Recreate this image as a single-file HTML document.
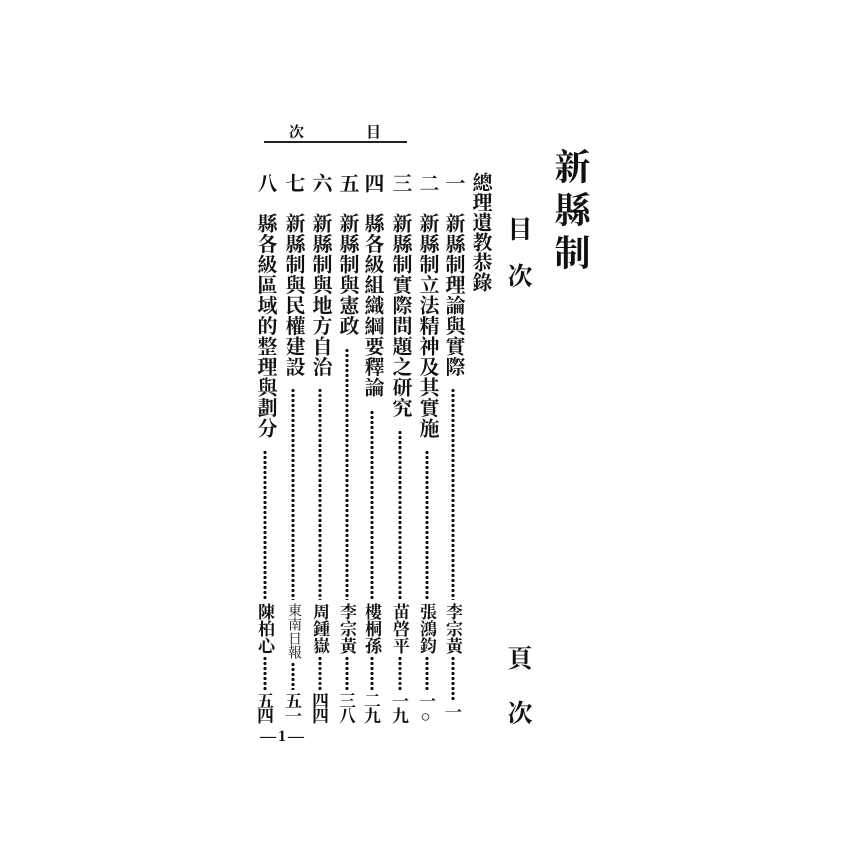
<!DOCTYPE html>
<html><head><meta charset="utf-8"><style>
body{margin:0;width:850px;height:850px;background:#fff;position:relative;overflow:hidden;font-family:"Liberation Serif","Noto Serif CJK SC","Noto Sans CJK TC",serif;color:#111}
.v{position:absolute;writing-mode:vertical-rl;line-height:1;white-space:nowrap;font-weight:bold}
.p{position:absolute;writing-mode:vertical-rl;line-height:1;white-space:nowrap;font-weight:bold;font-size:17px;letter-spacing:-2px}
.d{position:absolute;width:4px;background:radial-gradient(circle,#111 1.5px,transparent 1.8px) 0 0/4px 5px repeat-y}
</style></head><body>
<!-- header -->
<div class="v" style="left:287px;top:124px;font-size:15px">次</div>
<div class="v" style="left:364px;top:124px;font-size:15px">目</div>
<div style="position:absolute;left:264px;top:141px;width:143px;height:2px;background:#222"></div>
<!-- title -->
<div class="v" style="left:552px;top:148px;font-size:36px;letter-spacing:7px">新縣制</div>
<div class="v" style="left:505px;top:216px;font-size:25px;letter-spacing:22px">目次</div>
<div class="v" style="left:505px;top:645px;font-size:25px;letter-spacing:30px">頁次</div>
<div class="v" style="left:470px;top:172px;font-size:20px;letter-spacing:0px">總理遺教恭錄</div>

<!-- entries -->
<div class="v" style="left:443px;top:173px;font-size:20px">一</div>
<div class="v" style="left:443px;top:213px;font-size:20px;letter-spacing:0.5px">新縣制理論與實際</div>
<div class="d" style="left:451px;top:388px;height:212px"></div>
<div class="v" style="left:444px;top:603px;font-size:17px">李宗黃</div>
<div class="d" style="left:451px;top:656px;height:44px"></div>
<div class="p" style="left:443px;top:703px">一</div>

<div class="v" style="left:417px;top:173px;font-size:20px">二</div>
<div class="v" style="left:417px;top:213px;font-size:20px;letter-spacing:0.5px">新縣制立法精神及其實施</div>
<div class="d" style="left:425px;top:450px;height:150px"></div>
<div class="v" style="left:418px;top:603px;font-size:17px">張鴻鈞</div>
<div class="d" style="left:425px;top:656px;height:34px"></div>
<div class="p" style="left:417px;top:692px">一○</div>

<div class="v" style="left:390px;top:173px;font-size:20px">三</div>
<div class="v" style="left:390px;top:213px;font-size:20px;letter-spacing:0.5px">新縣制實際問題之研究</div>
<div class="d" style="left:398px;top:430px;height:170px"></div>
<div class="v" style="left:391px;top:603px;font-size:17px">苗啓平</div>
<div class="d" style="left:398px;top:656px;height:34px"></div>
<div class="p" style="left:390px;top:692px">一九</div>

<div class="v" style="left:362px;top:173px;font-size:20px">四</div>
<div class="v" style="left:362px;top:213px;font-size:20px;letter-spacing:0.5px">縣各級組織綱要釋論</div>
<div class="d" style="left:370px;top:410px;height:190px"></div>
<div class="v" style="left:363px;top:603px;font-size:17px">樓桐孫</div>
<div class="d" style="left:370px;top:656px;height:34px"></div>
<div class="p" style="left:362px;top:692px">二九</div>

<div class="v" style="left:337px;top:173px;font-size:20px">五</div>
<div class="v" style="left:337px;top:213px;font-size:20px;letter-spacing:0.5px">新縣制與憲政</div>
<div class="d" style="left:345px;top:348px;height:252px"></div>
<div class="v" style="left:338px;top:603px;font-size:17px">李宗黃</div>
<div class="d" style="left:345px;top:656px;height:34px"></div>
<div class="p" style="left:337px;top:692px">三八</div>

<div class="v" style="left:310px;top:173px;font-size:20px">六</div>
<div class="v" style="left:310px;top:213px;font-size:20px;letter-spacing:0.5px">新縣制與地方自治</div>
<div class="d" style="left:318px;top:388px;height:212px"></div>
<div class="v" style="left:311px;top:603px;font-size:17px">周鍾嶽</div>
<div class="d" style="left:318px;top:656px;height:34px"></div>
<div class="p" style="left:310px;top:692px">四四</div>

<div class="v" style="left:283px;top:173px;font-size:20px">七</div>
<div class="v" style="left:283px;top:213px;font-size:20px;letter-spacing:0.5px">新縣制與民權建設</div>
<div class="d" style="left:291px;top:388px;height:212px"></div>
<div class="v" style="left:286px;top:603px;font-size:14px;font-weight:normal">東南日報</div>
<div class="d" style="left:291px;top:662px;height:28px"></div>
<div class="p" style="left:283px;top:692px">五一</div>

<div class="v" style="left:255px;top:173px;font-size:20px">八</div>
<div class="v" style="left:255px;top:213px;font-size:20px;letter-spacing:0.5px">縣各級區域的整理與劃分</div>
<div class="d" style="left:263px;top:450px;height:150px"></div>
<div class="v" style="left:256px;top:603px;font-size:17px">陳柏心</div>
<div class="d" style="left:263px;top:656px;height:34px"></div>
<div class="p" style="left:255px;top:692px">五四</div>

<div style="position:absolute;left:260px;top:728px;font-size:16px;font-weight:bold;letter-spacing:2px;font-family:'Liberation Serif',serif">—1—</div>
</body></html>
